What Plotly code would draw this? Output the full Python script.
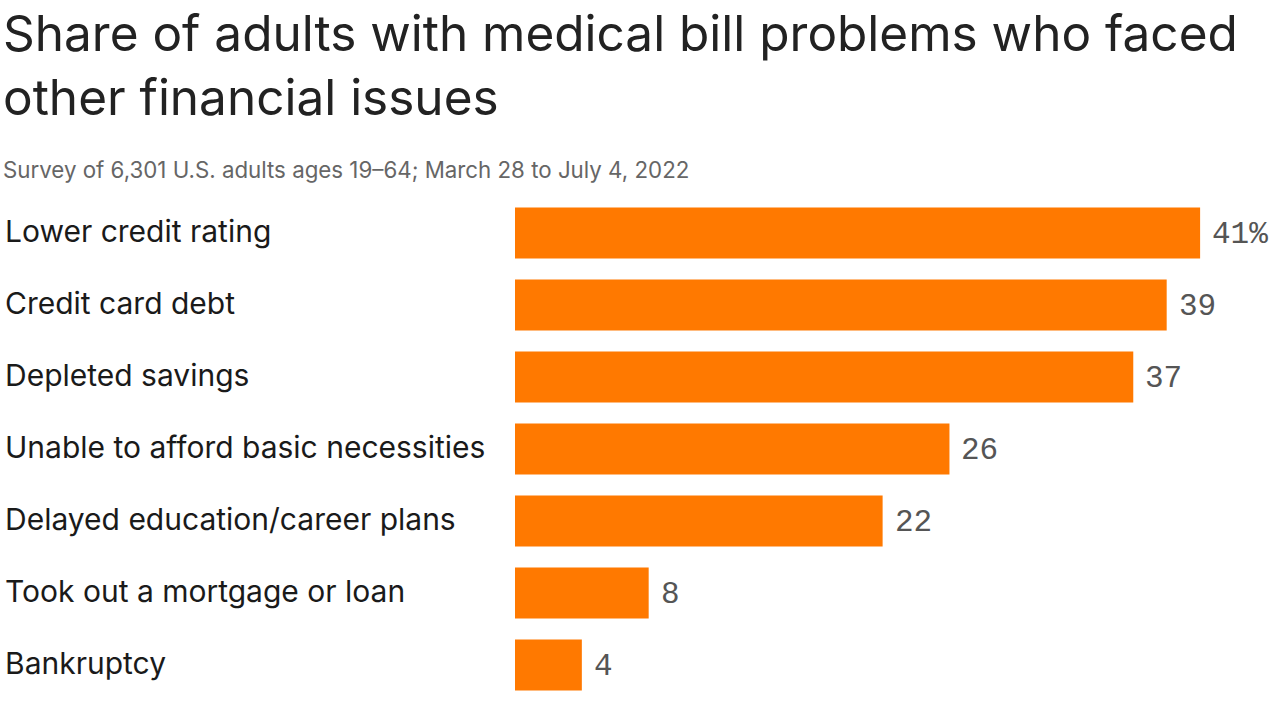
import plotly.graph_objects as go

categories = ["Lower credit rating", "Credit card debt", "Depleted savings",
              "Unable to afford basic necessities", "Delayed education/career plans",
              "Took out a mortgage or loan", "Bankruptcy"]
values = [41, 39, 37, 26, 22, 8, 4]
value_labels = ["41%", "39", "37", "26", "22", "8", "4"]

W, H = 1280, 719
L, R, T, B = 515, 0, 197, 18
plot_w = W - L - R

fig = go.Figure(go.Bar(
    x=values, y=categories, orientation="h",
    marker=dict(color="#FF7900", line=dict(width=0)),
    width=0.71, hoverinfo="skip",
))

annotations = []
for c, v, t in zip(categories, values, value_labels):
    annotations.append(dict(x=v, y=c, xref="x", yref="y", text=t, showarrow=False,
                            xanchor="left", xshift=10, yshift=-1,
                            font=dict(family="Liberation Mono", size=31, color="#555555")))
    annotations.append(dict(x=-(L - 3) / plot_w, y=c, xref="paper", yref="y", text=c,
                            showarrow=False, xanchor="left", yshift=2,
                            font=dict(family="Inter", size=30, color="#1a1a1a")))

annotations.append(dict(x=-(L - 1) / plot_w, y=1, xref="paper", yref="paper",
                        yshift=196, yanchor="top", xanchor="left", align="left",
                        text="Share of adults with medical bill problems who faced<br>other financial issues",
                        showarrow=False,
                        font=dict(family="Inter", size=49.5, color="#222222")))
annotations.append(dict(x=-(L - 1) / plot_w, y=1, xref="paper", yref="paper",
                        yshift=43, yanchor="top", xanchor="left", align="left",
                        text="Survey of 6,301 U.S. adults ages 19–64; March 28 to July 4, 2022",
                        showarrow=False,
                        font=dict(family="Inter", size=22.3, color="#666666")))

fig.update_layout(
    width=W, height=H,
    margin=dict(l=L, r=R, t=T, b=B),
    paper_bgcolor="white", plot_bgcolor="white",
    showlegend=False,
    bargap=0.29,
    xaxis=dict(range=[0, plot_w / 16.71], visible=False, fixedrange=True),
    yaxis=dict(categoryorder="array", categoryarray=categories, autorange="reversed",
               visible=False, fixedrange=True),
    annotations=annotations,
)

fig.write_html("out.html", config={"displayModeBar": False},
               post_script="document.body.style.margin='0';document.body.style.overflow='hidden';")
